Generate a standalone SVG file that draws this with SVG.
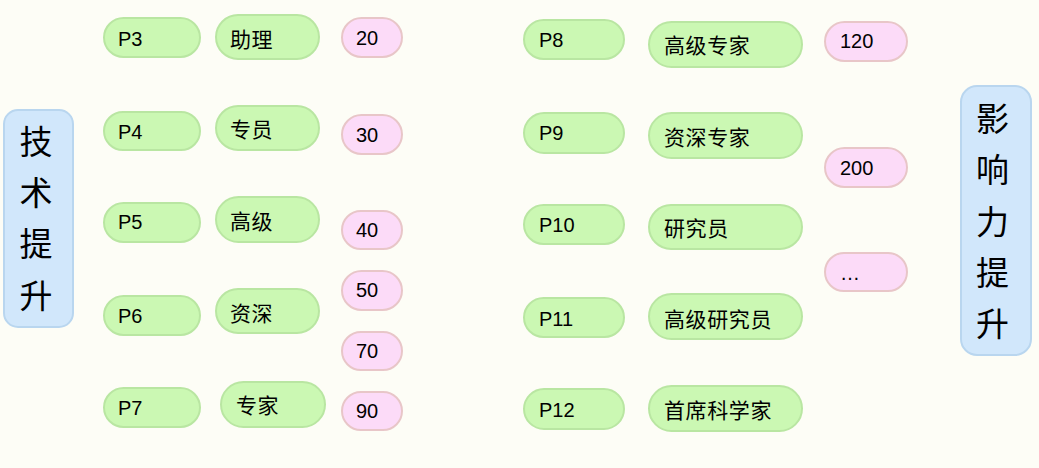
<svg xmlns="http://www.w3.org/2000/svg" width="1039" height="468" viewBox="0 0 1039 468">
<style>
.bg{fill:#fdfdf6}
.g{fill:#cbf8b3;stroke:#b9e6a2;stroke-width:2}
.p{fill:#fcdbf8;stroke:#e8c6c8;stroke-width:2}
.b{fill:#d1e7fb;stroke:#b9d6ef;stroke-width:2}
.t{font-family:"Liberation Sans","Noto Sans CJK SC",sans-serif;font-size:20px;fill:#000}
.c{font-family:"Noto Sans CJK SC",sans-serif;font-size:21px;letter-spacing:0.6px;fill:#000}
.big{font-family:"Noto Sans CJK SC",sans-serif;font-size:33px;fill:#000;text-anchor:middle}
</style>
<rect class="bg" x="0" y="0" width="1039" height="468"/>
<g id="tech">
<rect class="b" x="4" y="110" width="69" height="217" rx="14"/>
<text class="big" x="36" y="154">技</text>
<text class="big" x="36" y="205">术</text>
<text class="big" x="36" y="256">提</text>
<text class="big" x="36" y="308">升</text>
</g>
<g id="influence">
<rect class="b" x="961" y="86" width="70" height="269" rx="16"/>
<text class="big" x="992.5" y="131">影</text>
<text class="big" x="992.5" y="182">响</text>
<text class="big" x="992.5" y="234">力</text>
<text class="big" x="992.5" y="285">提</text>
<text class="big" x="992.5" y="336">升</text>
</g>
<g id="P3"><rect class="g" x="104" y="18" width="96" height="39" rx="19.5"/><text class="t" x="118" y="46">P3</text></g>
<g id="n-zhuli"><rect class="g" x="216" y="15" width="103" height="44" rx="22"/><text class="c" x="230" y="47">助理</text></g>
<g id="v20"><rect class="p" x="342" y="18" width="60" height="39" rx="19.5"/><text class="t" x="356" y="45">20</text></g>
<g id="P4"><rect class="g" x="104" y="112" width="96" height="38" rx="19"/><text class="t" x="118" y="139">P4</text></g>
<g id="n-zhuanyuan"><rect class="g" x="216" y="106" width="103" height="44" rx="22"/><text class="c" x="230" y="137">专员</text></g>
<g id="v30"><rect class="p" x="342" y="115" width="60" height="39" rx="19.5"/><text class="t" x="356" y="142">30</text></g>
<g id="P5"><rect class="g" x="104" y="203" width="96" height="39" rx="19.5"/><text class="t" x="118" y="229">P5</text></g>
<g id="n-gaoji"><rect class="g" x="216" y="197" width="103" height="45" rx="22.5"/><text class="c" x="230" y="229">高级</text></g>
<g id="v40"><rect class="p" x="342" y="211" width="60" height="38" rx="19"/><text class="t" x="356" y="237">40</text></g>
<g id="v50"><rect class="p" x="342" y="271" width="60" height="39" rx="19.5"/><text class="t" x="356" y="297">50</text></g>
<g id="P6"><rect class="g" x="104" y="296" width="96" height="39" rx="19.5"/><text class="t" x="118" y="323">P6</text></g>
<g id="n-zishen"><rect class="g" x="216" y="289" width="103" height="44" rx="22"/><text class="c" x="230" y="321">资深</text></g>
<g id="v70"><rect class="p" x="342" y="332" width="60" height="38" rx="19"/><text class="t" x="356" y="358">70</text></g>
<g id="P7"><rect class="g" x="104" y="388" width="96" height="39" rx="19.5"/><text class="t" x="118" y="415">P7</text></g>
<g id="n-zhuanjia"><rect class="g" x="221" y="382" width="104" height="45" rx="22.5"/><text class="c" x="236" y="413">专家</text></g>
<g id="v90"><rect class="p" x="342" y="392" width="60" height="38" rx="19"/><text class="t" x="356" y="418">90</text></g>
<g id="P8"><rect class="g" x="524" y="20" width="100" height="39" rx="19.5"/><text class="t" x="539" y="47">P8</text></g>
<g id="n-gjzj"><rect class="g" x="649" y="22" width="153" height="45" rx="22.5"/><text class="c" x="664" y="53">高级专家</text></g>
<g id="v120"><rect class="p" x="825" y="22" width="82" height="39" rx="19.5"/><text class="t" x="840" y="48">120</text></g>
<g id="P9"><rect class="g" x="524" y="113" width="100" height="40" rx="20"/><text class="t" x="539" y="140">P9</text></g>
<g id="n-szzj"><rect class="g" x="649" y="113" width="153" height="45" rx="22.5"/><text class="c" x="664" y="145">资深专家</text></g>
<g id="v200"><rect class="p" x="825" y="148" width="82" height="39" rx="19.5"/><text class="t" x="840" y="175">200</text></g>
<g id="P10"><rect class="g" x="524" y="205" width="100" height="39" rx="19.5"/><text class="t" x="539" y="232">P10</text></g>
<g id="n-yjy"><rect class="g" x="649" y="205" width="153" height="44" rx="22"/><text class="c" x="664" y="236">研究员</text></g>
<g id="vmore"><rect class="p" x="825" y="253" width="82" height="38" rx="19"/><text class="t" x="840" y="280">…</text></g>
<g id="P11"><rect class="g" x="524" y="298" width="100" height="39" rx="19.5"/><text class="t" x="539" y="326">P11</text></g>
<g id="n-gjyjy"><rect class="g" x="649" y="294" width="153" height="45" rx="22.5"/><text class="c" x="664" y="327">高级研究员</text></g>
<g id="P12"><rect class="g" x="524" y="389" width="100" height="40" rx="20"/><text class="t" x="539" y="417">P12</text></g>
<g id="n-sxkxj"><rect class="g" x="649" y="386" width="153" height="45" rx="22.5"/><text class="c" x="664" y="418">首席科学家</text></g>
<g id="connectors"></g>
</svg>
